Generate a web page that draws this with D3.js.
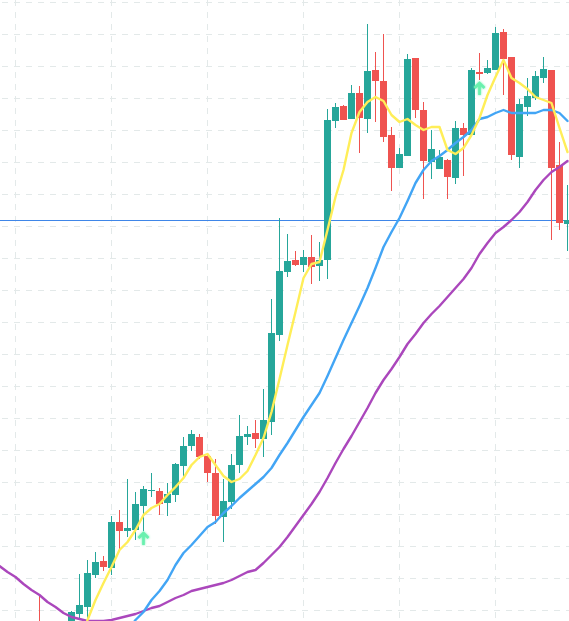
<!DOCTYPE html>
<html>
<head>
<meta charset="utf-8">
<script src="https://cdn.jsdelivr.net/npm/d3@7"></script>
<style>html,body{margin:0;padding:0;background:#fff;overflow:hidden}svg{display:block}</style>
</head>
<body>
<div id="chart"></div>
<script>
const firstCandle = 4;
const opens = [-9,-34,-19,-24,-9,7,14,46,60,53,99,90,91,115,130,130,118,126,155,175,184,165,148,104,119,156,184,188,182,199,286,349,361,356,364,355,361,500,515,502,528,502,551,540,486,453,465,563,511,459,452,461,443,493,486,549,548,551,589,564,464,514,523,543,551,456,397];
const highs = [25,-11,-14,-4,10,47,61,69,65,105,111,142,129,135,148,133,138,158,184,191,187,167,162,142,167,206,195,201,232,322,403,387,370,371,386,379,512,518,516,536,535,597,569,587,494,473,567,563,519,491,471,462,500,498,553,568,561,594,592,564,522,543,550,564,551,479,436];
const lows = [-39,-39,-34,-29,-14,1,3,43,50,46,71,84,81,90,124,106,105,119,142,170,162,139,97,79,112,148,176,173,164,186,280,344,355,349,337,340,342,493,501,502,468,488,499,479,430,453,465,503,422,442,452,422,437,445,486,541,547,551,526,461,453,505,521,538,381,391,370];
const closes = [-29,-19,-29,-9,9,16,48,59,54,99,90,93,117,132,131,117,127,157,175,187,164,148,105,120,156,185,187,182,201,288,350,360,356,364,354,361,501,514,501,528,503,550,540,484,453,467,562,511,460,472,464,444,493,486,551,547,553,588,562,466,517,525,545,552,453,398,401];

const yellowStart = 9;
const yellowLine = [-25,1,21,38,54,71,79,91,106,113,117,126,134,143,156,164,167,156,145,139,142,150,166,183,209,242,276,309,343,357,359,391,424,451,488,509,519,524,520,506,499,502,496,491,494,494,471,467,473,486,503,526,544,561,543,538,532,524,521,518,493,469];
const blueStart = 15;
const blueLine = [-10,1,9,21,30,41,56,68,76,85,94,99,108,115,123,130,137,144,153,166,178,191,204,216,228,245,263,281,298,315,333,353,374,389,403,420,438,451,460,465,471,478,484,491,502,504,508,511,508,508,508,508,511,511,508,500];
const purpleStart = -1;
const purpleLine = [55,49,44,37,31,26,19,14,8,4,2,0,0,0,1,3,5,7,10,13,15,19,23,26,30,32,34,36,38,41,45,49,51,58,66,74,84,95,106,117,129,143,158,172,185,199,213,228,241,252,264,277,287,298,307,315,324,333,342,353,367,378,388,394,401,409,419,431,441,449,454,460];

const gridPrices = d3.range(618.5, 0, -32);
const gridIndexes = [1,13,25,37,49,61];
const priceLine = 401;
const arrowIndexes = [17,59];
const arrowPrices = [89,539];

const width = 569, height = 621;
const x = d3.scaleLinear().domain([0,70]).range([7.5,567.5]);
const y = d3.scaleLinear().domain([0,621]).range([621,0]);

const svg = d3.select("#chart").append("svg").attr("width",width).attr("height",height);
const defs = svg.append("defs");
const glow = defs.append("filter").attr("id","glow").attr("x","-50%").attr("y","-50%").attr("width","200%").attr("height","200%");
glow.append("feGaussianBlur").attr("stdDeviation",1.2).attr("result","b");
const merge = glow.append("feMerge");
merge.append("feMergeNode").attr("in","b");
merge.append("feMergeNode").attr("in","SourceGraphic");

const grid = svg.append("g").attr("stroke","#e3e9e9").attr("stroke-width",1).attr("stroke-dasharray","6 6").attr("shape-rendering","crispEdges");
grid.selectAll("line.h").data(gridPrices).join("line").attr("class","h")
  .attr("x1",2).attr("x2",width).attr("y1",d=>Math.floor(y(d))+0.5).attr("y2",d=>Math.floor(y(d))+0.5);
grid.selectAll("line.v").data(gridIndexes).join("line").attr("class","v")
  .attr("x1",d=>x(d)).attr("x2",d=>x(d)).attr("y1",0).attr("y2",height);

svg.append("line").attr("x1",0).attr("x2",width).attr("y1",Math.floor(y(priceLine))+0.5).attr("y2",Math.floor(y(priceLine))+0.5)
  .attr("stroke","#3f86e8").attr("stroke-width",1).attr("shape-rendering","crispEdges");

const candles = opens.map((o,i)=>({i:i+firstCandle,o,h:highs[i],l:lows[i],c:closes[i]}));
const col = d=>d.c>=d.o?"#26a69a":"#ef5350";
const cg = svg.append("g").attr("shape-rendering","crispEdges");
cg.selectAll("line").data(candles).join("line")
  .attr("x1",d=>x(d.i)).attr("x2",d=>x(d.i)).attr("y1",d=>y(d.h)).attr("y2",d=>y(d.l))
  .attr("stroke",col).attr("stroke-width",1);
cg.selectAll("rect").data(candles).join("rect")
  .attr("x",d=>x(d.i)-3.5).attr("width",7)
  .attr("y",d=>y(Math.max(d.o,d.c))).attr("height",d=>Math.max(1,Math.abs(y(d.o)-y(d.c))))
  .attr("fill",col);

const drawLine=(vals,start,color,w)=>{
  const line=d3.line().x((d,i)=>x(i+start)).y(d=>y(d)).curve(d3.curveLinear);
  svg.append("path").attr("d",line(vals)).attr("fill","none").attr("stroke",color).attr("stroke-width",w)
    .attr("stroke-linejoin","round").attr("stroke-linecap","round");
};
drawLine(purpleLine,purpleStart,"#ab47bc",2.4);
drawLine(blueLine,blueStart,"#42a5f5",2.4);
drawLine(yellowLine,yellowStart,"#ffee58",2.4);

svg.append("g").selectAll("path").data(arrowIndexes).join("path")
  .attr("transform",(d,i)=>`translate(${x(d)},${y(arrowPrices[i])})`)
  .attr("d","M0,13V1M-5,6L0,1L5,6")
  .attr("fill","none").attr("stroke","#69f0ae").attr("stroke-width",2.6).attr("filter","url(#glow)");
</script>
</body>
</html>
